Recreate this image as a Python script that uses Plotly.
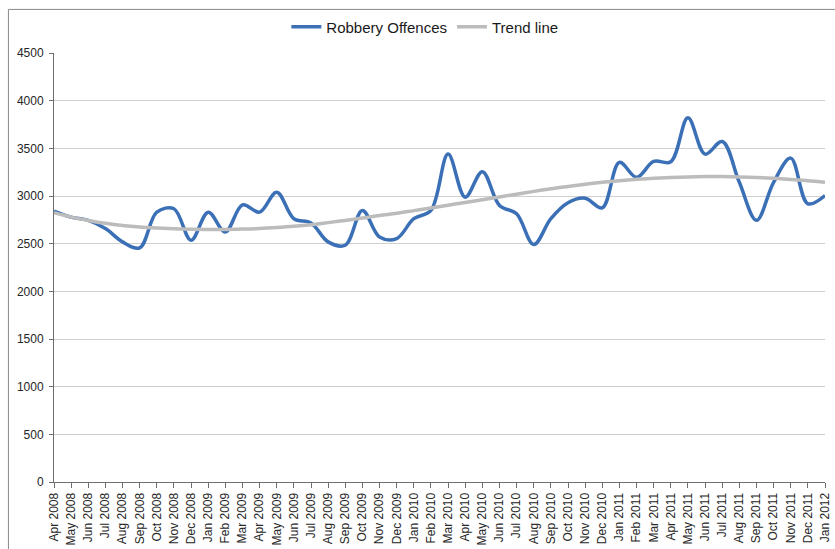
import plotly.graph_objects as go

# Monthly periods, April 2008 to January 2012
months = [
    "Apr 2008", "May 2008", "Jun 2008", "Jul 2008", "Aug 2008", "Sep 2008",
    "Oct 2008", "Nov 2008", "Dec 2008",
    "Jan 2009", "Feb 2009", "Mar 2009", "Apr 2009", "May 2009", "Jun 2009",
    "Jul 2009", "Aug 2009", "Sep 2009", "Oct 2009", "Nov 2009", "Dec 2009",
    "Jan 2010", "Feb 2010", "Mar 2010", "Apr 2010", "May 2010", "Jun 2010",
    "Jul 2010", "Aug 2010", "Sep 2010", "Oct 2010", "Nov 2010", "Dec 2010",
    "Jan 2011", "Feb 2011", "Mar 2011", "Apr 2011", "May 2011", "Jun 2011",
    "Jul 2011", "Aug 2011", "Sep 2011", "Oct 2011", "Nov 2011", "Dec 2011",
    "Jan 2012",
]

robbery_offences = [
    2843, 2780, 2746, 2660, 2520, 2457, 2832, 2868, 2537,
    2832, 2624, 2909, 2832, 3041, 2763, 2718, 2520, 2485, 2850, 2572, 2555,
    2763, 2850, 3441, 2989, 3257, 2902, 2815, 2492, 2763, 2930, 2978, 2878,
    3354, 3197, 3364, 3361, 3823, 3441, 3573, 3145, 2746, 3145, 3399, 2920,
    3006,
]

trend_line = [
    2825, 2780, 2745, 2715, 2692, 2676, 2665, 2657, 2652,
    2650, 2650, 2654, 2660, 2670, 2683, 2700, 2722, 2745, 2770, 2797, 2820,
    2848, 2876, 2905, 2934, 2962, 2991, 3020, 3050, 3078, 3102, 3125, 3145,
    3162, 3176, 3188, 3196, 3202, 3205, 3205, 3202, 3196, 3187, 3175, 3162,
    3146,
]

y_ticks = [0, 500, 1000, 1500, 2000, 2500, 3000, 3500, 4000, 4500]

FONT = "Liberation Sans, Arial, sans-serif"
TICK_COLOR = "#262626"

fig = go.Figure()
fig.add_trace(go.Scatter(
    x=months, y=robbery_offences, mode="lines", name="Robbery Offences",
    line=dict(color="#3b70b7", width=3.5, shape="spline", smoothing=1.0),
))
fig.add_trace(go.Scatter(
    x=months, y=trend_line, mode="lines", name="Trend line",
    line=dict(color="#bcbcbc", width=3.5, shape="spline", smoothing=1.0),
))

# chart-area frame
fig.add_shape(
    type="rect", xref="paper", yref="paper",
    x0=-0.0591, x1=1.05, y0=-0.3, y1=1.1021,
    line=dict(color="#8a8a8a", width=1), fillcolor="rgba(0,0,0,0)",
    layer="below",
)

fig.update_layout(
    width=835, height=549,
    margin=dict(l=54, r=3, t=52, b=66),
    paper_bgcolor="white", plot_bgcolor="white",
    font=dict(family=FONT, size=12, color=TICK_COLOR),
    showlegend=True,
    legend=dict(
        orientation="h", xref="paper", yref="container",
        x=0.481, y=0.951, xanchor="center", yanchor="middle",
        font=dict(family=FONT, size=15, color="#1a1a1a"),
        bgcolor="rgba(0,0,0,0)", itemwidth=30, tracegroupgap=0,
    ),
    xaxis=dict(
        type="category", range=[0, len(months) - 1],
        tickangle=-90, ticks="outside", ticklen=5, tickcolor="#6e6e6e",
        showline=True, linecolor="#6e6e6e", linewidth=1,
        showgrid=False, zeroline=False,
        tickfont=dict(family=FONT, size=12, color=TICK_COLOR),
    ),
    yaxis=dict(
        range=[0, 4500], tickvals=y_ticks,
        ticks="outside", ticklen=4, tickcolor="#6e6e6e",
        showline=True, linecolor="#6e6e6e", linewidth=1,
        showgrid=True, gridcolor="#cfcfcf", gridwidth=1, zeroline=False,
        ticklabelstandoff=3,
        tickfont=dict(family=FONT, size=12, color=TICK_COLOR),
    ),
)

fig.write_html("out.html")
